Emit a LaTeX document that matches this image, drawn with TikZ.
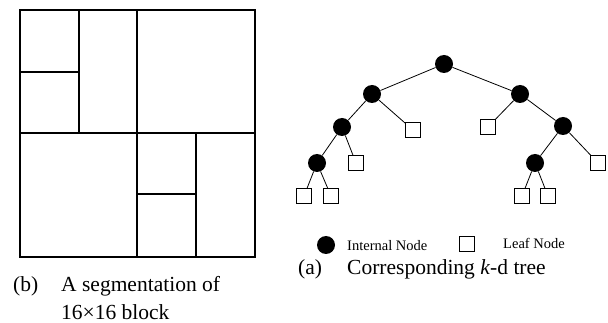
\documentclass[tikz,border=0pt]{standalone}
\usepackage{fontspec}
\setmainfont{Liberation Serif}
\begin{document}
\begin{tikzpicture}[x=1pt,y=-1pt,
	internal/.style={circle, fill=black, minimum size=18pt, inner sep=0pt},
	leafbox/.style={draw, line width=0.8pt, minimum size=15pt, inner sep=0pt},
	tedge/.style={line width=0.8pt}]
	\useasboundingbox (0,0) rectangle (608,323);
	
	% Outer block
	\draw [line width=2pt] (20,10) rectangle (255,257);
	
	% Split lines
	\draw [line width=2pt] (137,10) -- (137,257);
	\draw [line width=1.8pt] (20,133) -- (255,133);
	\draw [line width=2pt] (79,10) -- (79,133);
	\draw [line width=2pt] (20,72) -- (79,72);
	\draw [line width=2pt] (196,133) -- (196,257);
	\draw [line width=2pt] (137,194) -- (196,194);
	
	% Caption (b)
	\node [anchor=base west, inner sep=0pt, font=\fontsize{21.5}{26}\selectfont] (capb) at (13,291) {(b)};
	\node [anchor=base west, inner sep=0pt, font=\fontsize{21.5}{26}\selectfont] (capbtext) at (61,291) {A segmentation of};
	\node [anchor=base west, inner sep=0pt, font=\fontsize{21.5}{26}\selectfont] (capbtext2) at (61,319) {16×16 block};
	
	% Tree nodes
	\node [internal] (root) at (444,64) {};
	\node [internal] (l) at (372,94) {};
	\node [internal] (r) at (520,94) {};
	\node [internal] (ll) at (342,127) {};
	\node [leafbox] (lr) at (413,130) {};
	\node [leafbox] (rl) at (488,127) {};
	\node [internal] (rr) at (563,126) {};
	\node [internal] (lll) at (317,163) {};
	\node [leafbox] (llr) at (356,163) {};
	\node [internal] (rrl) at (535,163) {};
	\node [leafbox] (rrr) at (598,163) {};
	\node [leafbox] (llla) at (304,196) {};
	\node [leafbox] (lllb) at (331,196) {};
	\node [leafbox] (rrla) at (522,196) {};
	\node [leafbox] (rrlb) at (548,196) {};
	
	% Tree edges
	\draw [tedge] (root) -- (l);
	\draw [tedge] (root) -- (r);
	\draw [tedge] (l) -- (ll);
	\draw [tedge] (l) -- (lr);
	\draw [tedge] (r) -- (rl);
	\draw [tedge] (r) -- (rr);
	\draw [tedge] (ll) -- (lll);
	\draw [tedge] (ll) -- (llr);
	\draw [tedge] (rr) -- (rrl);
	\draw [tedge] (rr) -- (rrr);
	\draw [tedge] (lll) -- (llla);
	\draw [tedge] (lll) -- (lllb);
	\draw [tedge] (rrl) -- (rrla);
	\draw [tedge] (rrl) -- (rrlb);
	
	% Legend
	\node [internal] (keyint) at (326,245) {};
	\node [anchor=base west, inner sep=0pt, font=\fontsize{14.5}{17}\selectfont] (keyinttext) at (347,251) {Internal Node};
	\node [leafbox] (keyleaf) at (467,244) {};
	\node [anchor=base west, inner sep=0pt, font=\fontsize{14.5}{17}\selectfont] (keyleaftext) at (503,249) {Leaf Node};
	
	% Caption (a)
	\node [anchor=base west, inner sep=0pt, font=\fontsize{21.5}{26}\selectfont] (capa) at (298,275) {(a)};
	\node [anchor=base west, inner sep=0pt, font=\fontsize{21.5}{26}\selectfont] (capatext) at (347,275) {Corresponding \textit{k}-d tree};
\end{tikzpicture}
\end{document}
